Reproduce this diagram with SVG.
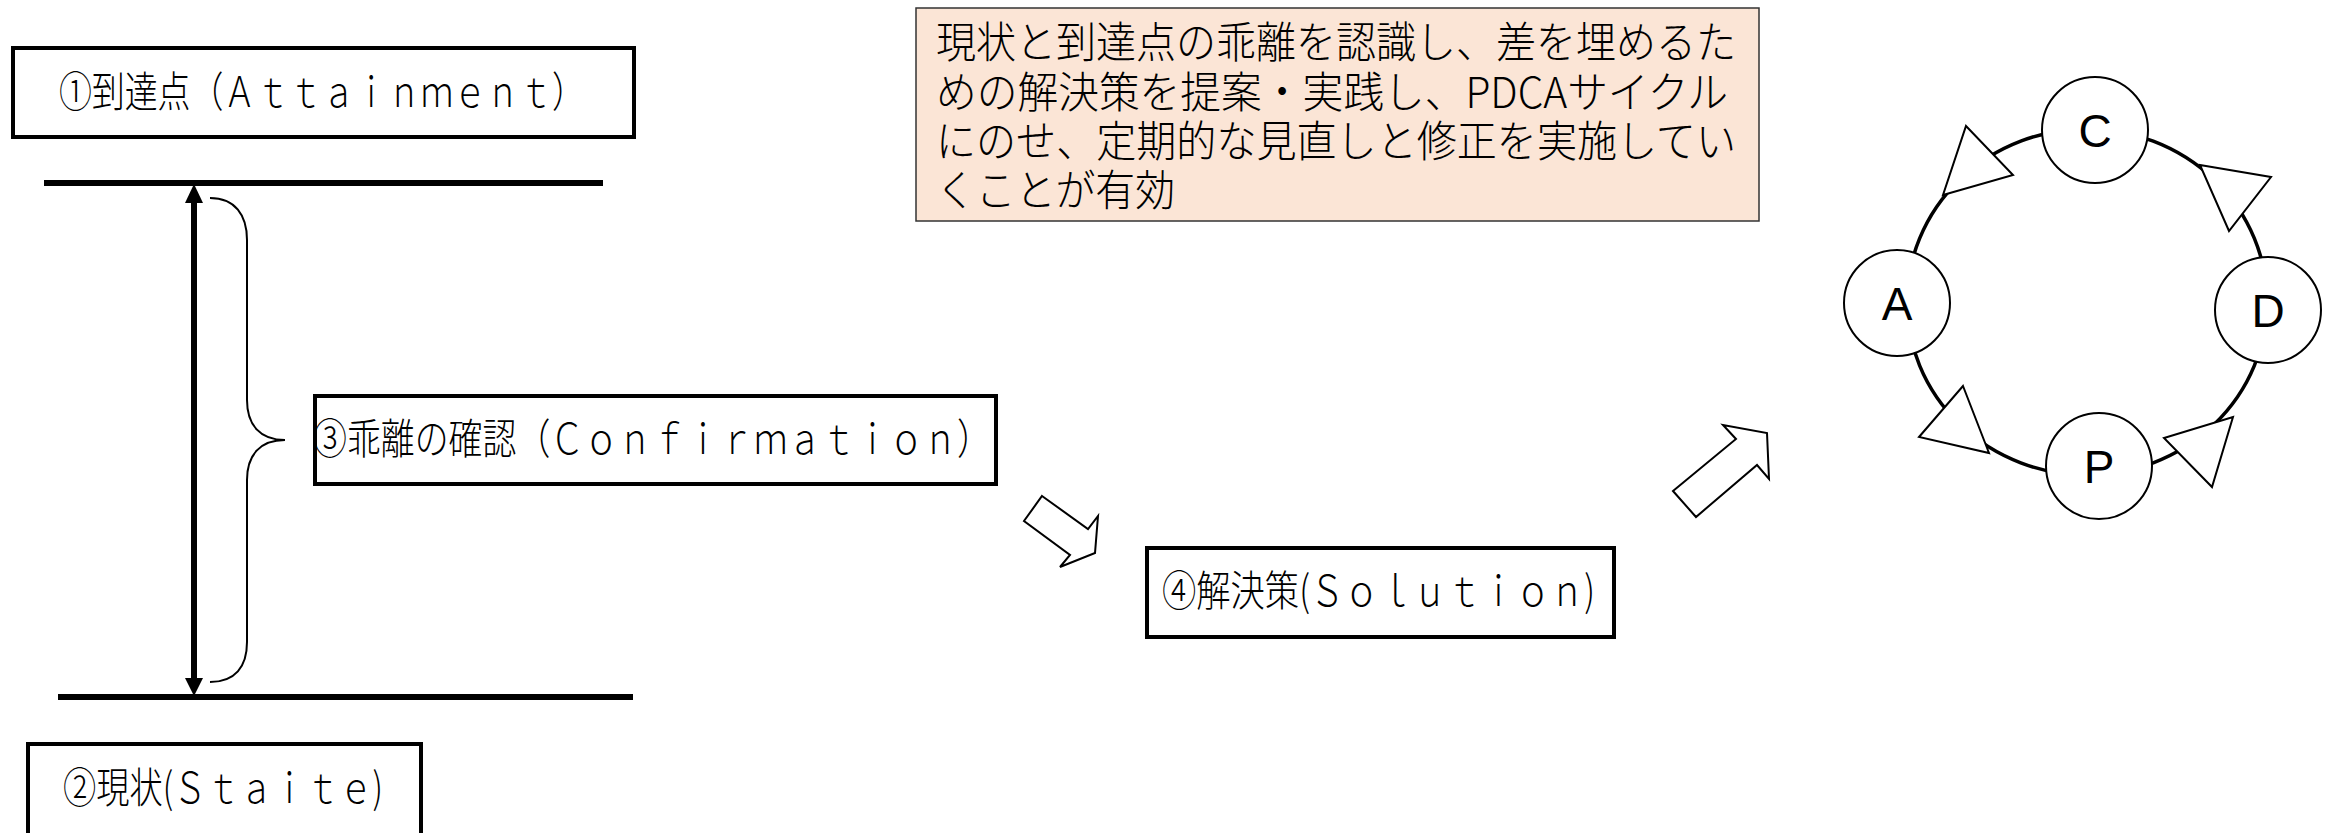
<svg xmlns="http://www.w3.org/2000/svg" width="2340" height="833" viewBox="0 0 2340 833">
<style>
.box{fill:#fff;stroke:#000;stroke-width:4}
.lbl{font-family:"Noto Sans CJK JP","Noto Sans",sans-serif;font-size:42px;font-weight:300;fill:#000}
.note{font-family:"Noto Sans CJK JP","Noto Sans",sans-serif;font-size:43px;font-weight:300;fill:#000}
.bar{stroke:#000;stroke-width:6}
.blk{fill:#fff;stroke:#000;stroke-width:2;stroke-linejoin:miter}
.sc{fill:#fff;stroke:#000;stroke-width:2}
.let{font-family:"Liberation Sans",Arial,sans-serif;font-size:46px;fill:#000;text-anchor:middle}
.tri{fill:#fff;stroke:#000;stroke-width:2;stroke-linejoin:miter}
</style>
<rect width="2340" height="833" fill="#fff"/>

<g id="connectors">
  <line class="bar" x1="44" y1="183" x2="603" y2="183"/>
  <line class="bar" x1="58" y1="697" x2="633" y2="697"/>
  <line x1="194" y1="200" x2="194" y2="681" stroke="#000" stroke-width="6"/>
  <polygon points="194,184 185,203 203,203" fill="#000"/>
  <polygon points="194,696 185,678 203,678" fill="#000"/>
  <path d="M210,198 C235,198 247,215 247,240 L247,400 C247,425 260,440 285,440 C260,440 247,455 247,480 L247,642 C247,667 235,682 210,682" fill="none" stroke="#000" stroke-width="2"/>
  <polygon class="blk" points="1042,496 1088,529 1098,516 1095,553 1060,567 1070,555 1024,521"/>
  <polygon class="blk" points="1673,491 1736,439 1723,425 1767,433 1769,479 1757,465 1696,517"/>
</g>

<g id="node-attainment">
  <rect class="box" x="13" y="48" width="621" height="89"/>
  <text class="lbl" x="59" y="107" textLength="526" lengthAdjust="spacingAndGlyphs">①到達点（Ａｔｔａｉｎｍｅｎｔ）</text>
</g>

<g id="node-confirmation">
  <rect class="box" x="315" y="396" width="681" height="88"/>
  <text class="lbl" x="313" y="454" textLength="678" lengthAdjust="spacingAndGlyphs">③乖離の確認（Ｃｏｎｆｉｒｍａｔｉｏｎ）</text>
</g>

<g id="node-solution">
  <rect class="box" x="1147" y="548" width="467" height="89"/>
  <text class="lbl" x="1162" y="606" textLength="433" lengthAdjust="spacingAndGlyphs">④解決策(Ｓｏｌｕｔｉｏｎ)</text>
</g>

<g id="node-state">
  <rect class="box" x="28" y="744" width="393" height="95"/>
  <text class="lbl" x="63" y="803" textLength="320" lengthAdjust="spacingAndGlyphs">②現状(Ｓｔａｉｔｅ)</text>
</g>

<g id="node-note">
  <rect x="916" y="8" width="843" height="213" fill="#FBE5D6" stroke="#333" stroke-width="1.5"/>
  <text class="note" x="936" y="58" textLength="800" lengthAdjust="spacingAndGlyphs">現状と到達点の乖離を認識し、差を埋めるた</text>
  <text class="note" x="936" y="108" textLength="792" lengthAdjust="spacingAndGlyphs">めの解決策を提案・実践し、PDCAサイクル</text>
  <text class="note" x="936" y="157" textLength="800" lengthAdjust="spacingAndGlyphs">にのせ、定期的な見直しと修正を実施してい</text>
  <text class="note" x="936" y="206" textLength="239" lengthAdjust="spacingAndGlyphs">くことが有効</text>
</g>

<g id="pdca-cycle">
  <ellipse cx="2087" cy="302" rx="180" ry="173" fill="none" stroke="#000" stroke-width="3.5"/>
  <polygon class="tri" points="1966,126 2013,175 1943,195"/>
  <polygon class="tri" points="2200,165 2271,177 2229,231"/>
  <polygon class="tri" points="2233,417 2212,487 2164,438"/>
  <polygon class="tri" points="1963,386 1989,453 1919,437"/>
</g>
<g id="node-C"><circle class="sc" cx="2095" cy="130" r="53"/><text class="let" x="2095" y="147">C</text></g>
<g id="node-A"><circle class="sc" cx="1897" cy="303" r="53"/><text class="let" x="1897" y="320">A</text></g>
<g id="node-D"><circle class="sc" cx="2268" cy="310" r="53"/><text class="let" x="2268" y="327">D</text></g>
<g id="node-P"><circle class="sc" cx="2099" cy="466" r="53"/><text class="let" x="2099" y="483">P</text></g>
</svg>
